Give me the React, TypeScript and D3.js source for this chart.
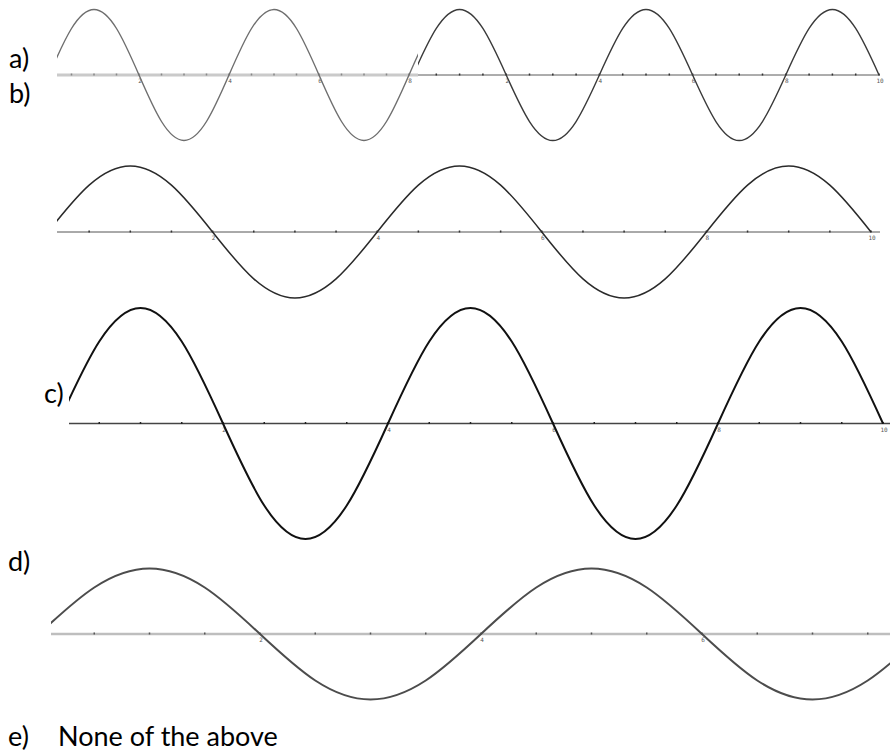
import React from 'react';
import * as d3 from 'd3';

// sample grid (x units) and the wave height at each step
const sampleX = [0, 0.5, 1, 1.5, 2, 2.5, 3, 3.5, 4, 4.5, 5, 5.5, 6, 6.5, 7, 7.5, 8, 8.5, 9, 9.5, 10];
const waveValues = [0, 0.71, 1, 0.71, 0, -0.71, -1, -0.71, 0, 0.71, 1, 0.71, 0, -0.71, -1, -0.71, 0, 0.71, 1, 0.71, 0];

const minorTicks = [0.5, 1, 1.5, 2, 2.5, 3, 3.5, 4, 4.5, 5, 5.5, 6, 6.5, 7, 7.5, 8, 8.5, 9, 9.5, 10];
const tickLabelValues = [2, 4, 6, 8, 10];
const tickLabels = ['2', '4', '6', '8', '10'];

const optionLabels = ['a)', 'b)', 'c)', 'd)', 'e)'];
const noneText = 'None of the above';

const W = 890;
const H = 754;

// layout of every plot strip
const panels = [
  { id: 'aL', xr: [49, 499], cy: 75, amp: 65.5, clip: [57, 418], axis: [57, 418],
    axisColor: '#cacaca', axisW: 3, curveColor: '#6e6e6e', curveW: 1.4, tickColor: '#888' },
  { id: 'aR', xr: [413, 879], cy: 75, amp: 65.5, clip: [418, 890], axis: [418, 880],
    axisColor: '#5a5a5a', axisW: 1, curveColor: '#3a3a3a', curveW: 1.4, tickColor: '#333' },
  { id: 'b', xr: [48, 871], cy: 232, amp: 66, clip: [57, 890], axis: [57, 880],
    axisColor: '#555', axisW: 1, curveColor: '#2a2a2a', curveW: 1.5, tickColor: '#333' },
  { id: 'c', xr: [58, 883], cy: 423.5, amp: 115.5, clip: [69, 890], axis: [69, 890],
    axisColor: '#444', axisW: 1.4, curveColor: '#111', curveW: 2, tickColor: '#222' },
  { id: 'd', xr: [39, 1144], cy: 634, amp: 65.5, clip: [51, 890], axis: [51, 890],
    axisColor: '#bebebe', axisW: 2.5, curveColor: '#4c4c4c', curveW: 2, tickColor: '#555' },
];

const labelPos = [
  { x: 9, y: 68 },
  { x: 9, y: 103 },
  { x: 44, y: 403 },
  { x: 8, y: 571 },
  { x: 8, y: 746 },
];

const points = sampleX.map((x, i) => ({ x, v: waveValues[i] }));

const Panel = ({ p }) => {
  const x = d3.scaleLinear().domain([0, 10]).range(p.xr);
  const y = d3.scaleLinear().domain([-1, 1]).range([p.cy + p.amp, p.cy - p.amp]);
  const line = d3.line().x(d => x(d.x)).y(d => y(d.v)).curve(d3.curveNatural);
  const inside = (px) => px >= p.axis[0] - 0.5 && px <= p.axis[1] + 0.5;

  return (
    <g>
      <defs>
        <clipPath id={`clip-${p.id}`}>
          <rect x={p.clip[0]} y={0} width={p.clip[1] - p.clip[0]} height={H} />
        </clipPath>
      </defs>
      <line x1={p.axis[0]} x2={p.axis[1]} y1={y(0)} y2={y(0)}
        stroke={p.axisColor} strokeWidth={p.axisW} />
      {minorTicks.filter(t => inside(x(t))).map(t => (
        <rect key={t} x={x(t) - 0.75} y={y(0) - 1.5} width={1.5} height={2} fill={p.tickColor} />
      ))}
      <g opacity={0.99}>
        {tickLabelValues.filter(t => inside(x(t))).map(t => (
          <text key={t} x={x(t) + 1} y={y(0) + 8} textAnchor="middle"
            fontFamily="DejaVu Sans Mono" fontSize={6} fill="#555">
            {tickLabels[tickLabelValues.indexOf(t)]}
          </text>
        ))}
      </g>
      <path d={line(points)} fill="none" stroke={p.curveColor} strokeWidth={p.curveW}
        clipPath={`url(#clip-${p.id})`} />
    </g>
  );
};

export default function App() {
  return (
    <svg width={W} height={H} viewBox={`0 0 ${W} ${H}`}
      style={{ position: 'absolute', left: 0, top: 0, background: '#fff' }}>
      <rect width={W} height={H} fill="#fff" />
      {panels.map(p => <Panel key={p.id} p={p} />)}
      {optionLabels.map((l, i) => (
        <text key={l} x={labelPos[i].x} y={labelPos[i].y}
          fontFamily="Lato" fontSize={27} fill="#000">{l}</text>
      ))}
      <text x={58} y={746} fontFamily="Lato" fontSize={27} fill="#000">{noneText}</text>
    </svg>
  );
}
